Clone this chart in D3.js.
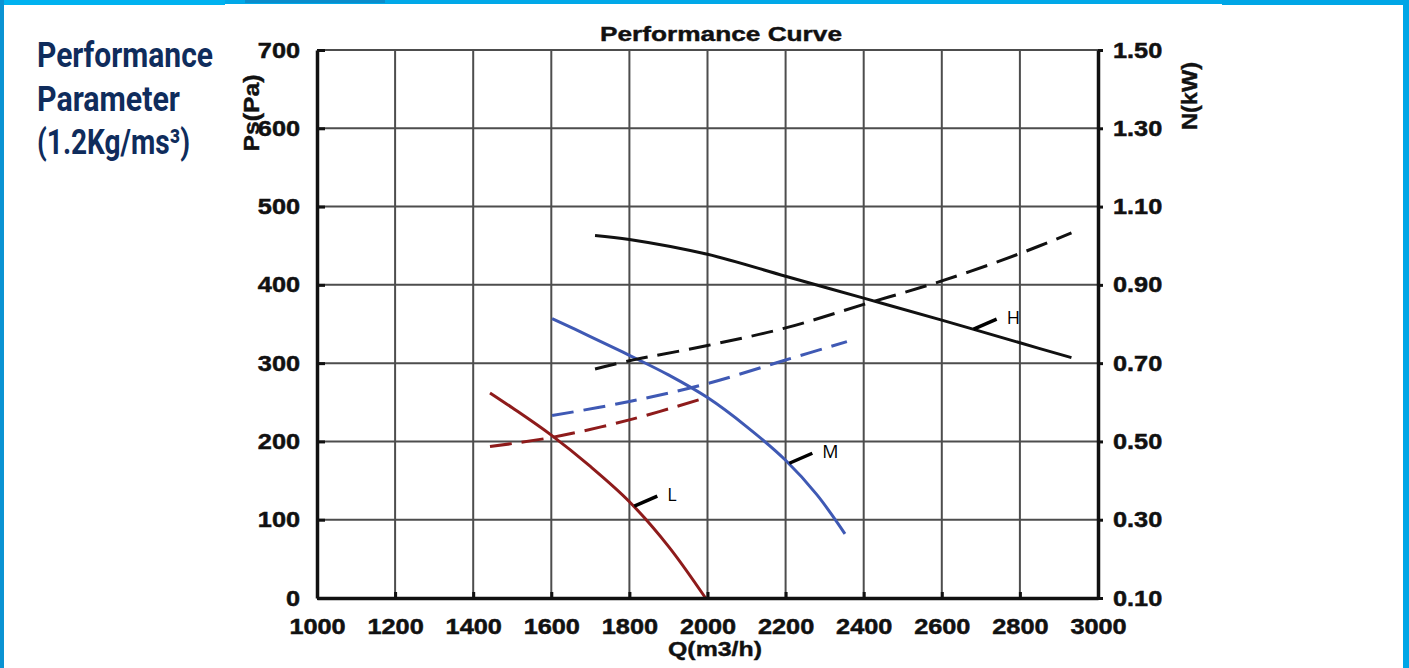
<!DOCTYPE html>
<html>
<head>
<meta charset="utf-8">
<script src="https://cdn.jsdelivr.net/npm/d3@7"></script>
<style>
  body { margin: 0; background: #fff; }
  svg { display: block; }
  .tick text { font-family: "Liberation Sans", Arial, sans-serif; font-weight: bold; font-size: 22px; fill: #111; stroke: #111; stroke-width: 0.5; }
  .lbl { font-family: "Liberation Sans", Arial, sans-serif; font-weight: bold; fill: #111; stroke: #111; stroke-width: 0.4; }
</style>
</head>
<body>
<svg id="chart"></svg>
<script>
// tick labels
const xTicks = [1000, 1200, 1400, 1600, 1800, 2000, 2200, 2400, 2600, 2800, 3000];
const psTicks = [0, 100, 200, 300, 400, 500, 600, 700];
const kwTicks = [0.10, 0.30, 0.50, 0.70, 0.90, 1.10, 1.30, 1.50];

// speed L (red)
const qL = [1443, 1500, 1600, 1700, 1800, 1900, 1995];
const psL = [262, 243, 208, 168, 123, 66, 0];
const qLkw = [1443, 1600, 1800, 1993];
const kwL = [0.487, 0.510, 0.555, 0.611];

// speed M (blue)
const qM = [1602, 1700, 1800, 1900, 2000, 2100, 2200, 2280, 2352];
const psM = [357, 334, 310, 285, 256, 219, 176, 132, 82];
const qMkw = [1602, 1800, 2000, 2200, 2357];
const kwM = [0.566, 0.602, 0.648, 0.708, 0.755];

// speed H (black)
const qH = [1712, 1800, 2000, 2200, 2400, 2600, 2800, 2932];
const psH = [463, 458, 439, 411, 383, 355, 326, 307];
const kwH = [0.685, 0.706, 0.745, 0.790, 0.850, 0.910, 0.980, 1.033];

// curve labels and where they sit on the pressure curve
const curveNames = ["L", "M", "H"];
const labelQ = [1810, 2207, 2679];

class PerformanceChart {

  constructor(_config) {
    this.config = {
      parentElement: _config.parentElement,
      containerWidth: 1409,
      containerHeight: 668,
      margin: { top: 50, bottom: 70, right: 311, left: 317 }
    }
    this.series = [
      { name: curveNames[0], color: "#8e1b1b", q: qL, ps: psL, qKw: qLkw, kw: kwL, labelQ: labelQ[0] },
      { name: curveNames[1], color: "#3f59b4", q: qM, ps: psM, qKw: qMkw, kw: kwM, labelQ: labelQ[1] },
      { name: curveNames[2], color: "#111111", q: qH, ps: psH, qKw: qH, kw: kwH, labelQ: labelQ[2] }
    ];
    this.initVis();
  }

  initVis() {
    let vis = this;
    vis.width = vis.config.containerWidth - vis.config.margin.left - vis.config.margin.right;
    vis.height = vis.config.containerHeight - vis.config.margin.top - vis.config.margin.bottom;

    vis.svg = d3.select(vis.config.parentElement)
      .attr('width', vis.config.containerWidth)
      .attr('height', vis.config.containerHeight);

    // blue page frame
    vis.svg.append('rect').attr('x', 0).attr('y', 0).attr('width', 1409).attr('height', 4).attr('fill', '#00a8e8');
    vis.svg.append('rect').attr('x', 0).attr('y', 0).attr('width', 225).attr('height', 5).attr('fill', '#00b2f0');
    vis.svg.append('rect').attr('x', 245).attr('y', 0).attr('width', 140).attr('height', 3).attr('fill', '#0a8ccb');
    vis.svg.append('rect').attr('x', 1222).attr('y', 0).attr('width', 187).attr('height', 5).attr('fill', '#00a6e6');
    vis.svg.append('rect').attr('x', 0).attr('y', 0).attr('width', 4).attr('height', 668).attr('fill', '#0a93d3');
    vis.svg.append('rect').attr('x', 1403).attr('y', 0).attr('width', 6).attr('height', 668).attr('fill', '#00a6e6');

    // left heading
    const heading = vis.svg.append('g')
      .attr('font-family', 'Roboto, sans-serif')
      .attr('font-weight', 'bold')
      .attr('font-size', 35)
      .attr('fill', '#0f2c5c');
    heading.append('text').attr('x', 37).attr('y', 67)
      .attr('textLength', 176).attr('lengthAdjust', 'spacingAndGlyphs').text('Performance');
    heading.append('text').attr('x', 37).attr('y', 111)
      .attr('textLength', 143).attr('lengthAdjust', 'spacingAndGlyphs').text('Parameter');
    heading.append('text').attr('x', 37).attr('y', 154)
      .attr('textLength', 153).attr('lengthAdjust', 'spacingAndGlyphs').text('(1.2Kg/ms³)');

    vis.chart = vis.svg.append('g')
      .attr('transform', `translate(${vis.config.margin.left},${vis.config.margin.top})`);

    vis.xScale = d3.scaleLinear().domain([1000, 3000]).range([0, vis.width]);
    vis.yScale = d3.scaleLinear().domain([0, 700]).range([vis.height, 0]);
    vis.yRScale = d3.scaleLinear().domain([0.10, 1.50]).range([vis.height, 0]);

    // grid
    vis.chart.append('g').attr('class', 'grid')
      .selectAll('line.v')
      .data(xTicks.slice(1, -1))
      .join('line')
        .attr('x1', d => vis.xScale(d)).attr('x2', d => vis.xScale(d))
        .attr('y1', 0).attr('y2', vis.height)
        .attr('stroke', '#4d4d4d').attr('stroke-width', 2);
    vis.chart.append('g').attr('class', 'grid')
      .selectAll('line.h')
      .data(psTicks.slice(1))
      .join('line')
        .attr('x1', 0).attr('x2', vis.width)
        .attr('y1', d => vis.yScale(d)).attr('y2', d => vis.yScale(d))
        .attr('stroke', '#4d4d4d').attr('stroke-width', 2);

    // titles
    vis.svg.append('text').attr('class', 'lbl')
      .attr('x', 721).attr('y', 41)
      .attr('text-anchor', 'middle')
      .style('font-size', '20px')
      .attr('textLength', 242).attr('lengthAdjust', 'spacingAndGlyphs')
      .text('Performance Curve');

    vis.svg.append('text').attr('class', 'lbl')
      .attr('x', 715).attr('y', 656)
      .attr('text-anchor', 'middle')
      .style('font-size', '21px')
      .attr('textLength', 94).attr('lengthAdjust', 'spacingAndGlyphs')
      .text('Q(m3/h)');

    vis.svg.append('text').attr('class', 'lbl')
      .attr('transform', 'translate(259,113) rotate(-90)')
      .attr('text-anchor', 'middle')
      .style('font-size', '22px')
      .attr('textLength', 77).attr('lengthAdjust', 'spacingAndGlyphs')
      .text('Ps(Pa)');

    vis.svg.append('text').attr('class', 'lbl')
      .attr('transform', 'translate(1197,96) rotate(-90)')
      .attr('text-anchor', 'middle')
      .style('font-size', '22px')
      .attr('textLength', 68).attr('lengthAdjust', 'spacingAndGlyphs')
      .text('N(kW)');

    vis.updateVis();
  }

  updateVis() {
    let vis = this;

    vis.psLine = d3.line()
      .x(d => vis.xScale(d[0]))
      .y(d => vis.yScale(d[1]))
      .curve(d3.curveCatmullRom.alpha(0.5));
    vis.kwLine = d3.line()
      .x(d => vis.xScale(d[0]))
      .y(d => vis.yRScale(d[1]))
      .curve(d3.curveCatmullRom.alpha(0.5));

    const curves = vis.chart.append('g').attr('fill', 'none');

    curves.selectAll('.ps')
      .data(vis.series)
      .join('path')
        .attr('class', 'ps')
        .attr('d', s => vis.psLine(d3.zip(s.q, s.ps)))
        .attr('stroke', s => s.color)
        .attr('stroke-width', 3);

    curves.selectAll('.kw')
      .data(vis.series)
      .join('path')
        .attr('class', 'kw')
        .attr('d', s => vis.kwLine(d3.zip(s.qKw, s.kw)))
        .attr('stroke', s => s.color)
        .attr('stroke-width', 3)
        .attr('stroke-dasharray', '22,10');

    // curve labels: small black leader + letter
    const labels = vis.chart.selectAll('.curve-label')
      .data(vis.series)
      .join('g')
        .attr('class', 'curve-label')
        .attr('transform', s => {
          const onCurve = d3.scaleLinear().domain(s.q).range(s.ps);
          return `translate(${vis.xScale(s.labelQ)},${vis.yScale(onCurve(s.labelQ))})`;
        });
    labels.append('line')
      .attr('x1', 1).attr('y1', 0).attr('x2', 24).attr('y2', -10)
      .attr('stroke', '#000').attr('stroke-width', 3.5);
    labels.append('text')
      .attr('x', 34).attr('y', -5)
      .attr('font-family', '"Open Sans", sans-serif')
      .attr('font-size', 18)
      .attr('fill', '#000')
      .text(s => s.name);

    // axes
    vis.xAxisG = d3.axisBottom(vis.xScale).tickValues(xTicks).tickFormat(d3.format('d')).tickSize(-6).tickSizeOuter(0);
    vis.yAxisG = d3.axisLeft(vis.yScale).tickValues(psTicks).tickFormat(d3.format('d')).tickSize(-8).tickSizeOuter(0);
    vis.yRAxisG = d3.axisRight(vis.yRScale).tickValues(kwTicks).tickFormat(d3.format('.2f')).tickSize(5).tickSizeOuter(0);

    const xa = vis.chart.append('g').attr('class', 'xAxis')
      .attr('transform', `translate(0,${vis.height})`)
      .call(vis.xAxisG);
    xa.selectAll('.tick text').attr('y', 36).attr('dy', 0).attr('transform', 'scale(1.15,1)');

    const ya = vis.chart.append('g').attr('class', 'yAxis').call(vis.yAxisG);
    ya.selectAll('.tick text').attr('x', -17 / 1.15).attr('transform', 'scale(1.15,1)');

    const yra = vis.chart.append('g').attr('class', 'yRAxis')
      .attr('transform', `translate(${vis.width},0)`)
      .call(vis.yRAxisG);
    yra.selectAll('.tick text').attr('x', 15 / 1.15).attr('transform', 'scale(1.15,1)');

    vis.chart.selectAll('.xAxis, .yAxis, .yRAxis').attr('color', '#111');
    vis.chart.selectAll('.domain').attr('stroke-width', 3.5);
    vis.chart.selectAll('.tick line').attr('stroke-width', 3);
  }
}

const chart = new PerformanceChart({ parentElement: '#chart' });
</script>
</body>
</html>
